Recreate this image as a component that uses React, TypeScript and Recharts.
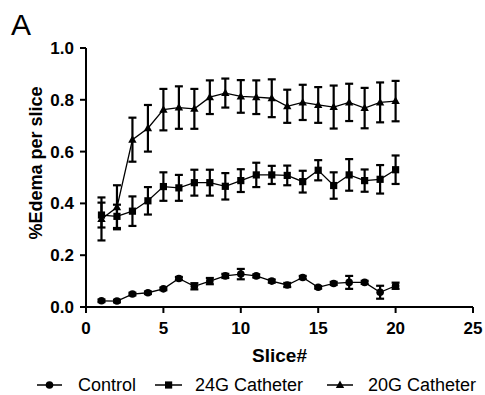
import React from 'react';
import { LineChart, Line, XAxis, YAxis, ErrorBar, Label } from 'recharts';

const slices = [1, 2, 3, 4, 5, 6, 7, 8, 9, 10, 11, 12, 13, 14, 15, 16, 17, 18, 19, 20];

const control = [0.024, 0.023, 0.05, 0.055, 0.07, 0.11, 0.08, 0.1, 0.12, 0.127, 0.12, 0.1, 0.085, 0.114, 0.076, 0.091, 0.095, 0.095, 0.057, 0.082];
const controlErr = [0.005, 0.005, 0.005, 0.005, 0.005, 0.006, 0.012, 0.012, 0.008, 0.02, 0.006, 0.006, 0.008, 0.006, 0.005, 0.006, 0.025, 0.006, 0.025, 0.012];

const g24 = [0.355, 0.35, 0.37, 0.41, 0.465, 0.46, 0.48, 0.48, 0.466, 0.488, 0.51, 0.51, 0.508, 0.484, 0.528, 0.469, 0.51, 0.488, 0.493, 0.53];
const g24Err = [0.048, 0.045, 0.057, 0.053, 0.055, 0.05, 0.05, 0.05, 0.051, 0.044, 0.047, 0.035, 0.038, 0.042, 0.039, 0.051, 0.061, 0.043, 0.055, 0.055];

const g20 = [0.34, 0.385, 0.646, 0.69, 0.762, 0.77, 0.765, 0.81, 0.826, 0.813, 0.81, 0.806, 0.775, 0.79, 0.78, 0.772, 0.79, 0.768, 0.79, 0.795];
const g20Err = [0.083, 0.085, 0.085, 0.09, 0.08, 0.082, 0.077, 0.065, 0.056, 0.063, 0.065, 0.073, 0.064, 0.068, 0.069, 0.083, 0.072, 0.078, 0.077, 0.078];

const xTicks = [0, 5, 10, 15, 20, 25];
const yTicks = [0, 0.2, 0.4, 0.6, 0.8, 1.0];

const seriesNames = ['Control', '24G Catheter', '20G Catheter'];

const data = slices.map((s, i) => ({
  slice: s,
  control: control[i],
  controlErr: controlErr[i],
  g24: g24[i],
  g24Err: g24Err[i],
  g20: g20[i],
  g20Err: g20Err[i],
}));

const FONT = 'Arial, "Liberation Sans", Helvetica, sans-serif';

const Circle = (p: any) => {
  if (p.cx == null || p.cy == null) return null;
  return <circle key={`c-${p.index}`} cx={p.cx} cy={p.cy} r={3.8} fill="#000" />;
};
const Square = (p: any) => {
  if (p.cx == null || p.cy == null) return null;
  return <rect key={`s-${p.index}`} x={p.cx - 3.6} y={p.cy - 3.6} width={7.2} height={7.2} fill="#000" />;
};
const Triangle = (p: any) => {
  if (p.cx == null || p.cy == null) return null;
  const { cx, cy } = p;
  return <polygon key={`t-${p.index}`} points={`${cx},${cy - 4.5} ${cx + 4.2},${cy + 3} ${cx - 4.2},${cy + 3}`} fill="#000" />;
};

const axisStyle = { stroke: '#000', strokeWidth: 2 };
const tickStyle = { fill: '#000', fontSize: 17, fontWeight: 'bold' as const, fontFamily: FONT };

export default function App() {
  return (
    <div style={{ position: 'absolute', left: 0, top: 0, width: 485, height: 395, background: '#fff' }}>
      <LineChart
        width={485}
        height={395}
        data={data}
        margin={{ top: 48, right: 12, left: 0, bottom: 58 }}
      >
        <XAxis
          type="number"
          dataKey="slice"
          domain={[0, 25]}
          ticks={xTicks}
          axisLine={axisStyle}
          tickLine={axisStyle}
          tickSize={6}
          tickMargin={9}
          tick={tickStyle}
          height={30}
        >
          <Label
            content={(props: any) => {
              const vb = props.viewBox || {};
              return (
                <text
                  x={vb.x + vb.width / 2}
                  y={vb.y + 55}
                  textAnchor="middle"
                  fontSize={19}
                  fontWeight="bold"
                  fontFamily={FONT}
                  fill="#000"
                >
                  Slice#
                </text>
              );
            }}
          />
        </XAxis>
        <YAxis
          type="number"
          domain={[0, 1]}
          ticks={yTicks}
          tickFormatter={(v: number) => v.toFixed(1)}
          axisLine={axisStyle}
          tickLine={axisStyle}
          tickSize={6}
          tickMargin={6}
          tick={tickStyle}
          width={86}
        >
          <Label
            content={() => (
              <text
                x={42}
                y={163}
                transform="rotate(-90, 42, 163)"
                textAnchor="middle"
                fontSize={18}
                fontWeight="bold"
                fontFamily={FONT}
                fill="#000"
              >
                %Edema per slice
              </text>
            )}
          />
        </YAxis>
        <Line
          type="linear"
          dataKey="control"
          stroke="#000"
          strokeWidth={1.3}
          dot={Circle}
          activeDot={false}
          isAnimationActive={false}
        >
          <ErrorBar dataKey="controlErr" width={4} stroke="#000" strokeWidth={2.2} direction="y" isAnimationActive={false} />
        </Line>
        <Line
          type="linear"
          dataKey="g24"
          stroke="#000"
          strokeWidth={1.3}
          dot={Square}
          activeDot={false}
          isAnimationActive={false}
        >
          <ErrorBar dataKey="g24Err" width={4} stroke="#000" strokeWidth={2.2} direction="y" isAnimationActive={false} />
        </Line>
        <Line
          type="linear"
          dataKey="g20"
          stroke="#000"
          strokeWidth={1.3}
          dot={Triangle}
          activeDot={false}
          isAnimationActive={false}
        >
          <ErrorBar dataKey="g20Err" width={4} stroke="#000" strokeWidth={2.2} direction="y" isAnimationActive={false} />
        </Line>
      </LineChart>
      <svg
        width={485}
        height={395}
        style={{ position: 'absolute', left: 0, top: 0, pointerEvents: 'none' }}
      >
        <text x={11} y={35} fontSize={30} fontFamily={FONT} fill="#000">A</text>
        <g>
          <line x1={37} y1={385} x2={62} y2={385} stroke="#000" strokeWidth={1.5} />
          <circle cx={49.5} cy={385} r={3.8} fill="#000" />
          <text x={78} y={391} fontSize={18} fontFamily={FONT} fill="#000">{seriesNames[0]}</text>
        </g>
        <g>
          <line x1={155} y1={385} x2={182} y2={385} stroke="#000" strokeWidth={1.5} />
          <rect x={165} y={381.4} width={7.2} height={7.2} fill="#000" />
          <text x={195} y={391} fontSize={18} fontFamily={FONT} fill="#000">{seriesNames[1]}</text>
        </g>
        <g>
          <line x1={327} y1={385} x2={353} y2={385} stroke="#000" strokeWidth={1.5} />
          <polygon points="340,380.5 344.2,388 335.8,388" fill="#000" />
          <text x={368} y={391} fontSize={18} fontFamily={FONT} fill="#000">{seriesNames[2]}</text>
        </g>
      </svg>
    </div>
  );
}
